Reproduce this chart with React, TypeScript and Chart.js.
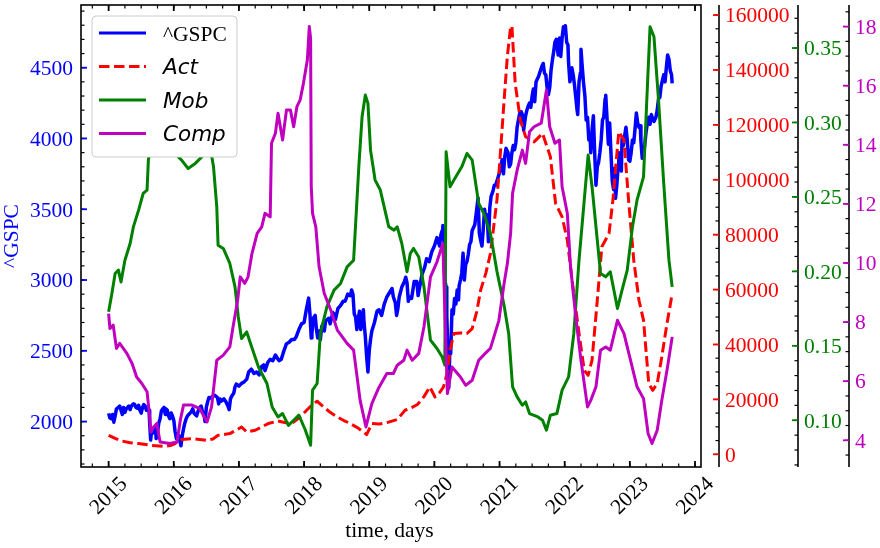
import { useEffect, useRef } from "react";
import { Chart, registerables } from "chart.js";

Chart.register(...registerables);

const SERIF = "'Liberation Serif', 'Times New Roman', serif";
const SANS = "'DejaVu Sans', sans-serif";
const FS = 21.5;

const BLUE = "#0000ff";
const RED = "#ff0000";
const GREEN = "#008000";
const MAGENTA = "#bf00bf";

// ^GSPC close: [year, index]
const gspc: [number, number][] = [
  [2015.0, 2058], [2015.02, 2025], [2015.04, 2020], [2015.06, 2050], [2015.08, 1995], [2015.1, 2040],
  [2015.12, 2090], [2015.15, 2100], [2015.17, 2110], [2015.19, 2080], [2015.21, 2050], [2015.23, 2100],
  [2015.25, 2065], [2015.27, 2090], [2015.29, 2100], [2015.31, 2110], [2015.33, 2085], [2015.35, 2110],
  [2015.38, 2125], [2015.4, 2120], [2015.42, 2100], [2015.44, 2095], [2015.46, 2115], [2015.48, 2080],
  [2015.5, 2060], [2015.52, 2100], [2015.54, 2120], [2015.56, 2110], [2015.58, 2080], [2015.6, 2100],
  [2015.62, 2080], [2015.63, 1990], [2015.645, 1870], [2015.66, 1940], [2015.68, 1920], [2015.7, 1960],
  [2015.72, 1950], [2015.73, 1880], [2015.75, 1920], [2015.77, 1990], [2015.79, 2020], [2015.81, 2075],
  [2015.83, 2090], [2015.85, 2100], [2015.87, 2050], [2015.88, 2090], [2015.9, 2080], [2015.92, 2040],
  [2015.94, 2020], [2015.96, 2060], [2015.98, 2040], [2016.0, 2010], [2016.02, 1930], [2016.04, 1880],
  [2016.06, 1870], [2016.08, 1900], [2016.1, 1850], [2016.11, 1829], [2016.13, 1900], [2016.15, 1950],
  [2016.17, 1990], [2016.19, 2020], [2016.21, 2040], [2016.23, 2050], [2016.25, 2060], [2016.27, 2070],
  [2016.29, 2090], [2016.31, 2060], [2016.33, 2050], [2016.35, 2040], [2016.37, 2070], [2016.4, 2100],
  [2016.42, 2110], [2016.44, 2070], [2016.46, 2060], [2016.48, 2000], [2016.5, 2100], [2016.52, 2140],
  [2016.54, 2170], [2016.56, 2165], [2016.6, 2180], [2016.63, 2185], [2016.67, 2170], [2016.69, 2125],
  [2016.71, 2160], [2016.73, 2145], [2016.77, 2160], [2016.8, 2140], [2016.83, 2110], [2016.85, 2085],
  [2016.87, 2160], [2016.89, 2180], [2016.92, 2200], [2016.94, 2245], [2016.96, 2265], [2017.0, 2250],
  [2017.04, 2270], [2017.08, 2280], [2017.12, 2300], [2017.15, 2350], [2017.19, 2370], [2017.23, 2340],
  [2017.27, 2350], [2017.31, 2330], [2017.35, 2390], [2017.38, 2400], [2017.4, 2360], [2017.44, 2415],
  [2017.48, 2440], [2017.52, 2430], [2017.56, 2470], [2017.6, 2440], [2017.62, 2430], [2017.65, 2440],
  [2017.69, 2500], [2017.73, 2550], [2017.77, 2560], [2017.81, 2580], [2017.85, 2580], [2017.88, 2600],
  [2017.92, 2650], [2017.96, 2690], [2018.0, 2700], [2018.03, 2780], [2018.06, 2850], [2018.07, 2872],
  [2018.09, 2760], [2018.11, 2590], [2018.12, 2620], [2018.14, 2730], [2018.17, 2750], [2018.19, 2650],
  [2018.21, 2590], [2018.23, 2640], [2018.25, 2580], [2018.27, 2670], [2018.29, 2690], [2018.31, 2640],
  [2018.33, 2710], [2018.35, 2720], [2018.38, 2730], [2018.4, 2690], [2018.44, 2770], [2018.46, 2760],
  [2018.48, 2720], [2018.52, 2800], [2018.56, 2820], [2018.6, 2850], [2018.63, 2850], [2018.67, 2900],
  [2018.71, 2890], [2018.73, 2930], [2018.75, 2900], [2018.77, 2760], [2018.79, 2740], [2018.81, 2650],
  [2018.83, 2720], [2018.85, 2780], [2018.87, 2650], [2018.89, 2730], [2018.91, 2790], [2018.92, 2700],
  [2018.94, 2600], [2018.96, 2460], [2018.98, 2351], [2019.0, 2500], [2019.02, 2580], [2019.04, 2640],
  [2019.08, 2700], [2019.12, 2780], [2019.15, 2790], [2019.19, 2750], [2019.23, 2830], [2019.27, 2880],
  [2019.31, 2910], [2019.35, 2940], [2019.37, 2880], [2019.4, 2840], [2019.42, 2750], [2019.44, 2800],
  [2019.46, 2880], [2019.5, 2950], [2019.54, 2990], [2019.56, 3020], [2019.58, 2980], [2019.6, 2850],
  [2019.62, 2880], [2019.65, 2870], [2019.69, 2990], [2019.73, 2990], [2019.75, 2890], [2019.77, 2940],
  [2019.81, 3040], [2019.85, 3090], [2019.88, 3150], [2019.92, 3130], [2019.96, 3200], [2020.0, 3240],
  [2020.04, 3300], [2020.08, 3240], [2020.1, 3320], [2020.12, 3350], [2020.13, 3386], [2020.15, 3250],
  [2020.16, 3000], [2020.18, 2950], [2020.19, 2750], [2020.21, 2450], [2020.22, 2237], [2020.24, 2550],
  [2020.25, 2480], [2020.27, 2790], [2020.29, 2760], [2020.31, 2870], [2020.33, 2830], [2020.35, 2930],
  [2020.37, 2860], [2020.38, 2960], [2020.4, 3000], [2020.42, 3050], [2020.44, 3190], [2020.46, 3000],
  [2020.48, 3110], [2020.5, 3130], [2020.52, 3180], [2020.54, 3250], [2020.56, 3270], [2020.58, 3350],
  [2020.62, 3390], [2020.65, 3500], [2020.67, 3580], [2020.69, 3330], [2020.71, 3280], [2020.73, 3240],
  [2020.75, 3360], [2020.77, 3500], [2020.79, 3430], [2020.81, 3460], [2020.83, 3270], [2020.85, 3510],
  [2020.87, 3590], [2020.9, 3630], [2020.92, 3670], [2020.94, 3670], [2020.96, 3700], [2021.0, 3760],
  [2021.02, 3810], [2021.04, 3850], [2021.06, 3750], [2021.08, 3870], [2021.1, 3930], [2021.13, 3900],
  [2021.15, 3800], [2021.17, 3820], [2021.19, 3900], [2021.21, 3950], [2021.23, 3920], [2021.25, 3970],
  [2021.27, 4080], [2021.29, 4130], [2021.31, 4180], [2021.33, 4190], [2021.35, 4170], [2021.37, 4060],
  [2021.4, 4160], [2021.42, 4200], [2021.44, 4230], [2021.46, 4250], [2021.48, 4220], [2021.5, 4300],
  [2021.52, 4350], [2021.54, 4260], [2021.56, 4400], [2021.58, 4420], [2021.6, 4440], [2021.62, 4470],
  [2021.65, 4510], [2021.67, 4530], [2021.69, 4460], [2021.71, 4450], [2021.73, 4360], [2021.75, 4310],
  [2021.77, 4360], [2021.79, 4480], [2021.81, 4550], [2021.83, 4610], [2021.85, 4680], [2021.87, 4700],
  [2021.9, 4590], [2021.92, 4710], [2021.94, 4580], [2021.96, 4710], [2021.98, 4790], [2022.0, 4770],
  [2022.01, 4797], [2022.03, 4680], [2022.05, 4660], [2022.06, 4530], [2022.08, 4400], [2022.09, 4430],
  [2022.11, 4500], [2022.13, 4450], [2022.15, 4380], [2022.17, 4290], [2022.19, 4200], [2022.2, 4170],
  [2022.22, 4400], [2022.24, 4460], [2022.25, 4630], [2022.27, 4500], [2022.29, 4390], [2022.31, 4300],
  [2022.33, 4130], [2022.35, 4150], [2022.37, 3990], [2022.39, 4020], [2022.4, 3900], [2022.42, 4060],
  [2022.44, 4160], [2022.46, 3900], [2022.48, 3670], [2022.5, 3800], [2022.52, 3830], [2022.54, 3900],
  [2022.56, 3990], [2022.58, 4130], [2022.6, 4150], [2022.62, 4280], [2022.63, 4305], [2022.65, 4140],
  [2022.67, 3960], [2022.69, 4110], [2022.71, 3900], [2022.73, 3700], [2022.75, 3640], [2022.77, 3790],
  [2022.78, 3577], [2022.8, 3670], [2022.82, 3800], [2022.83, 3900], [2022.85, 3860], [2022.87, 3770],
  [2022.88, 4000], [2022.9, 3950], [2022.92, 4020], [2022.94, 4080], [2022.96, 3990], [2022.98, 3850],
  [2023.0, 3840], [2023.02, 3900], [2023.04, 3990], [2023.06, 3970], [2023.08, 4070], [2023.1, 4180],
  [2023.12, 4110], [2023.14, 4080], [2023.16, 4090], [2023.17, 3980], [2023.19, 3860], [2023.21, 3890],
  [2023.23, 3960], [2023.25, 4050], [2023.27, 4110], [2023.29, 4150], [2023.31, 4100], [2023.33, 4170],
  [2023.35, 4140], [2023.37, 4120], [2023.4, 4150], [2023.42, 4200], [2023.44, 4280], [2023.46, 4290],
  [2023.48, 4370], [2023.5, 4410], [2023.52, 4450], [2023.54, 4400], [2023.56, 4500], [2023.58, 4590],
  [2023.6, 4560], [2023.62, 4480], [2023.64, 4450], [2023.65, 4390],
];

// Act (red dashed, right axis 1)
const act: [number, number][] = [
  [2015.0, 6900], [2015.1, 5800], [2015.2, 4850], [2015.33, 4200], [2015.46, 3900], [2015.64, 3300],
  [2015.84, 2900], [2015.95, 3200], [2016.02, 3900], [2016.12, 5350], [2016.3, 5700], [2016.51, 5100],
  [2016.6, 5600], [2016.68, 6900], [2016.86, 7550], [2016.96, 8800], [2017.04, 9950], [2017.12, 8130],
  [2017.25, 8750], [2017.45, 11190], [2017.6, 12140], [2017.7, 11600], [2017.81, 11190], [2017.9, 12800],
  [2017.99, 14830], [2018.1, 17500], [2018.2, 19320], [2018.3, 17240], [2018.4, 15300], [2018.51, 13600],
  [2018.61, 12300], [2018.71, 11190], [2018.84, 9370], [2018.96, 7180], [2019.04, 11190], [2019.15, 11000],
  [2019.27, 11550], [2019.43, 12650], [2019.55, 16040], [2019.65, 17000], [2019.74, 18120], [2019.84, 21000],
  [2019.93, 24530], [2020.01, 20890], [2020.08, 22500], [2020.14, 24530], [2020.2, 30000], [2020.24, 37900],
  [2020.3, 44000], [2020.4, 44200], [2020.5, 44000], [2020.58, 45800], [2020.65, 52000], [2020.71, 59800],
  [2020.79, 66000], [2020.86, 73150], [2020.96, 92600], [2021.02, 112000], [2021.07, 129000], [2021.12, 145000],
  [2021.17, 155750], [2021.19, 156000], [2021.24, 135100], [2021.32, 121700], [2021.4, 115650], [2021.53, 113800],
  [2021.66, 116900], [2021.7, 114000], [2021.78, 108400], [2021.86, 91400], [2021.96, 86500], [2022.04, 78000],
  [2022.12, 62200], [2022.22, 44000], [2022.3, 30600], [2022.36, 28800], [2022.42, 34300], [2022.5, 56100],
  [2022.57, 75600], [2022.68, 80400], [2022.74, 92600], [2022.83, 117500], [2022.91, 114450], [2022.98, 92600],
  [2023.06, 70700], [2023.14, 56100], [2023.21, 48800], [2023.29, 25770], [2023.35, 23300], [2023.42, 25770],
  [2023.49, 35460], [2023.57, 47640], [2023.65, 58570],
];

// Mob (green, right axis 2)
const mob: [number, number][] = [
  [2015.0, 0.1728], [2015.05, 0.1851], [2015.1, 0.1986], [2015.15, 0.2008], [2015.19, 0.1929], [2015.25, 0.2075],
  [2015.33, 0.2187], [2015.38, 0.2299], [2015.46, 0.2411], [2015.53, 0.2523], [2015.59, 0.2546], [2015.61, 0.2747],
  [2015.64, 0.2837], [2015.75, 0.292], [2015.9, 0.29], [2016.02, 0.285], [2016.07, 0.2769], [2016.12, 0.2747],
  [2016.22, 0.2691], [2016.33, 0.2725], [2016.43, 0.2769], [2016.51, 0.2814], [2016.56, 0.283], [2016.61, 0.2702],
  [2016.66, 0.2433], [2016.68, 0.2176], [2016.76, 0.2154], [2016.86, 0.2053], [2016.94, 0.1896], [2016.99, 0.1694],
  [2017.04, 0.1549], [2017.12, 0.1593], [2017.17, 0.1526], [2017.3, 0.1358], [2017.43, 0.1247], [2017.51, 0.1089],
  [2017.6, 0.1022], [2017.67, 0.1045], [2017.76, 0.0966], [2017.84, 0.1], [2017.92, 0.1034], [2018.02, 0.0933],
  [2018.1, 0.0832], [2018.13, 0.1202], [2018.2, 0.1247], [2018.25, 0.1583], [2018.35, 0.1761], [2018.46, 0.1874],
  [2018.56, 0.1919], [2018.66, 0.203], [2018.76, 0.2075], [2018.84, 0.2702], [2018.89, 0.3038], [2018.94, 0.3184],
  [2018.98, 0.3128], [2019.02, 0.2814], [2019.09, 0.2613], [2019.17, 0.2546], [2019.3, 0.2299], [2019.38, 0.2277],
  [2019.43, 0.2299], [2019.5, 0.2187], [2019.58, 0.1997], [2019.63, 0.212], [2019.68, 0.2154], [2019.76, 0.2097],
  [2019.84, 0.1896], [2019.94, 0.1538], [2020.04, 0.1482], [2020.12, 0.1425], [2020.16, 0.137], [2020.18, 0.2803],
  [2020.24, 0.2568], [2020.3, 0.2613], [2020.42, 0.2702], [2020.5, 0.2792], [2020.58, 0.2747], [2020.68, 0.2456],
  [2020.76, 0.2389], [2020.86, 0.2255], [2020.96, 0.2], [2021.07, 0.177], [2021.14, 0.1583], [2021.2, 0.1224],
  [2021.27, 0.1157], [2021.35, 0.1101], [2021.4, 0.1123], [2021.46, 0.1045], [2021.59, 0.1022], [2021.66, 0.1],
  [2021.72, 0.0933], [2021.78, 0.1034], [2021.88, 0.1045], [2021.96, 0.1202], [2022.06, 0.1291], [2022.14, 0.1583],
  [2022.22, 0.2075], [2022.3, 0.2478], [2022.36, 0.2781], [2022.42, 0.2568], [2022.49, 0.2255], [2022.55, 0.1986],
  [2022.63, 0.1963], [2022.7, 0.1997], [2022.81, 0.1751], [2022.88, 0.1874], [2022.96, 0.2008], [2023.04, 0.2299],
  [2023.11, 0.2478], [2023.21, 0.2635], [2023.26, 0.315], [2023.31, 0.3643], [2023.37, 0.3576], [2023.44, 0.315],
  [2023.52, 0.2591], [2023.6, 0.2075], [2023.65, 0.1896],
];

// Comp (magenta, right axis 3)
const comp: [number, number][] = [
  [2015.0, 8.29], [2015.02, 7.78], [2015.07, 7.9], [2015.12, 7.11], [2015.17, 7.28], [2015.28, 6.94],
  [2015.36, 6.6], [2015.43, 6.14], [2015.51, 5.92], [2015.59, 5.64], [2015.62, 5.02], [2015.65, 4.28],
  [2015.69, 4.45], [2015.74, 4.57], [2015.79, 3.94], [2015.94, 3.89], [2016.05, 3.94], [2016.1, 4.68],
  [2016.15, 5.19], [2016.28, 5.19], [2016.4, 5.07], [2016.51, 4.62], [2016.58, 5.13], [2016.66, 6.71],
  [2016.76, 6.88], [2016.86, 7.16], [2016.91, 7.84], [2016.98, 8.74], [2017.02, 9.53], [2017.09, 9.31],
  [2017.14, 9.53], [2017.2, 10.32], [2017.28, 11.0], [2017.35, 11.22], [2017.4, 11.68], [2017.48, 11.56],
  [2017.5, 14.05], [2017.56, 14.39], [2017.6, 15.07], [2017.67, 14.16], [2017.73, 15.18], [2017.79, 15.18],
  [2017.84, 14.61], [2017.89, 15.29], [2017.94, 15.52], [2017.99, 16.08], [2018.05, 16.87], [2018.08, 18.0],
  [2018.1, 17.6], [2018.11, 12.58], [2018.13, 11.68], [2018.18, 11.22], [2018.23, 9.87], [2018.31, 8.97],
  [2018.41, 8.4], [2018.51, 7.73], [2018.66, 7.28], [2018.76, 7.05], [2018.86, 5.35], [2018.95, 4.45],
  [2019.04, 5.24], [2019.14, 5.75], [2019.27, 6.26], [2019.37, 6.26], [2019.43, 6.54], [2019.53, 6.71],
  [2019.58, 7.05], [2019.66, 6.71], [2019.76, 6.94], [2019.84, 7.84], [2019.94, 9.53], [2020.04, 10.04],
  [2020.13, 10.66], [2020.17, 7.61], [2020.2, 5.58], [2020.27, 6.48], [2020.4, 6.14], [2020.48, 5.86],
  [2020.58, 6.03], [2020.68, 6.71], [2020.78, 6.94], [2020.86, 7.11], [2020.99, 8.06], [2021.07, 9.31],
  [2021.12, 9.98], [2021.17, 11.0], [2021.2, 12.36], [2021.27, 13.14], [2021.35, 13.82], [2021.4, 13.37],
  [2021.46, 14.44], [2021.53, 14.61], [2021.64, 14.73], [2021.72, 15.85], [2021.77, 14.61], [2021.85, 14.05],
  [2021.92, 14.16], [2021.96, 12.58], [2022.04, 11.68], [2022.09, 9.87], [2022.17, 8.18], [2022.25, 6.71],
  [2022.35, 5.13], [2022.4, 5.35], [2022.48, 5.81], [2022.55, 7.05], [2022.63, 7.16], [2022.7, 7.05],
  [2022.81, 8.06], [2022.91, 7.61], [2023.01, 6.71], [2023.11, 5.81], [2023.21, 5.41], [2023.28, 4.23],
  [2023.34, 3.89], [2023.42, 4.34], [2023.49, 5.35], [2023.57, 6.37], [2023.65, 7.5],
];

// tick labels
const yearTicks = [2015, 2016, 2017, 2018, 2019, 2020, 2021, 2022, 2023, 2024];
const gspcTicks = [2000, 2500, 3000, 3500, 4000, 4500];
const actTicks = [0, 20000, 40000, 60000, 80000, 100000, 120000, 140000, 160000];
const mobTicks = [0.1, 0.15, 0.2, 0.25, 0.3, 0.35];
const compTicks = [4, 6, 8, 10, 12, 14, 16, 18];

const DASH = [10.5, 4.5];

const legendItems = [
  { label: "^GSPC", color: BLUE, dash: [] as number[], font: `${FS}px ${SERIF}` },
  { label: "Act", color: RED, dash: DASH, font: `italic ${FS}px ${SANS}` },
  { label: "Mob", color: GREEN, dash: [] as number[], font: `italic ${FS}px ${SANS}` },
  { label: "Comp", color: MAGENTA, dash: [] as number[], font: `italic ${FS}px ${SANS}` },
];

function minorsFor(min: number, max: number, step: number): number[] {
  const out: number[] = [];
  for (let k = Math.ceil(min / step - 1e-9); k * step <= max + 1e-9; k++) out.push(k * step);
  return out;
}

function seg(ctx: CanvasRenderingContext2D, x1: number, y1: number, x2: number, y2: number, color: string, w: number) {
  ctx.strokeStyle = color;
  ctx.lineWidth = w;
  ctx.beginPath();
  ctx.moveTo(x1, y1);
  ctx.lineTo(x2, y2);
  ctx.stroke();
}

const MAJ = 6;
const MIN = 3.5;

// matplotlib-like frame, inward ticks, offset twin spines and legend
const axesPlugin = {
  id: "mplAxes",
  afterDraw(chart: any) {
    const { ctx, chartArea: a, scales } = chart;
    ctx.save();
    ctx.setLineDash([]);

    // x axis (bottom + top ticks)
    const xs = scales.x;
    for (const v of minorsFor(xs.min, xs.max, 0.25)) {
      const px = xs.getPixelForValue(v);
      seg(ctx, px, a.bottom, px, a.bottom - MIN, "#000", 1.2);
      seg(ctx, px, a.top, px, a.top + MIN, "#000", 1.2);
    }
    ctx.fillStyle = "#000";
    ctx.font = `${FS}px ${SERIF}`;
    ctx.textAlign = "center";
    ctx.textBaseline = "alphabetic";
    for (const v of yearTicks) {
      const px = xs.getPixelForValue(v);
      seg(ctx, px, a.bottom, px, a.bottom - MAJ, "#000", 1.8);
      seg(ctx, px, a.top, px, a.top + MAJ, "#000", 1.8);
      ctx.save();
      ctx.translate(px - 0.8, a.bottom + 28);
      ctx.rotate(-Math.PI / 4);
      ctx.fillText(String(v), 0, FS * 0.34);
      ctx.restore();
    }
    ctx.fillText("time, days", 389.5, 537);

    // left axis (^GSPC)
    const yg = scales.yG;
    for (const v of minorsFor(yg.min, yg.max, 100)) {
      const py = yg.getPixelForValue(v);
      seg(ctx, a.left, py, a.left + MIN, py, "#000", 1.2);
    }
    ctx.fillStyle = BLUE;
    ctx.textAlign = "right";
    for (const v of gspcTicks) {
      const py = yg.getPixelForValue(v);
      seg(ctx, a.left, py, a.left + MAJ, py, BLUE, 1.8);
      ctx.fillText(String(v), a.left - 8, py + FS * 0.34);
    }
    ctx.save();
    ctx.translate(18, 236);
    ctx.rotate(-Math.PI / 2);
    ctx.textAlign = "center";
    ctx.fillText("^GSPC", 0, 0);
    ctx.restore();

    // frame
    ctx.strokeStyle = "#000";
    ctx.lineWidth = 1.6;
    ctx.strokeRect(a.left, a.top, a.right - a.left, a.bottom - a.top);

    // offset right spines
    const spine = (x: number, sc: any, majors: number[], step: number, color: string, fmt: (v: number) => string) => {
      seg(ctx, x, a.top, x, a.bottom, "#000", 1.6);
      for (const v of minorsFor(sc.min, sc.max, step)) {
        const py = sc.getPixelForValue(v);
        seg(ctx, x, py, x - MIN, py, "#000", 1.2);
      }
      ctx.fillStyle = color;
      ctx.textAlign = "left";
      for (const v of majors) {
        const py = sc.getPixelForValue(v);
        seg(ctx, x, py, x - MAJ, py, color, 1.8);
        ctx.fillText(fmt(v), x + 6, py + FS * 0.34);
      }
    };
    spine(a.right + 18, scales.yA, actTicks, 5000, RED, (v) => String(v));
    spine(a.right + 97, scales.yM, mobTicks, 0.01, GREEN, (v) => v.toFixed(2));
    spine(a.right + 148, scales.yC, compTicks, 0.5, MAGENTA, (v) => String(v));

    // legend
    const lx = a.left + 11;
    const ly = a.top + 11;
    const lw = 145;
    const lh = 141;
    ctx.beginPath();
    ctx.roundRect(lx, ly, lw, lh, 4);
    ctx.fillStyle = "#ffffff";
    ctx.fill();
    ctx.strokeStyle = "#cccccc";
    ctx.lineWidth = 1;
    ctx.stroke();
    legendItems.forEach((it, i) => {
      const ry = ly + 17 + i * 33.5;
      ctx.setLineDash(it.dash);
      seg(ctx, lx + 7, ry, lx + 54, ry, it.color, 3);
      ctx.setLineDash([]);
      ctx.fillStyle = "#000";
      ctx.font = it.font;
      ctx.textAlign = "left";
      ctx.fillText(it.label, lx + 71, ry + 7.5);
    });

    ctx.restore();
  },
};

const toPts = (arr: [number, number][]) => arr.map(([x, y]) => ({ x, y }));

export default function App() {
  const canvasRef = useRef<HTMLCanvasElement | null>(null);

  useEffect(() => {
    if (!canvasRef.current) return;
    const common = { pointRadius: 0, borderWidth: 3, tension: 0, borderJoinStyle: "round" as const, fill: false };
    const chart = new Chart(canvasRef.current, {
      type: "line",
      data: {
        datasets: [
          { ...common, label: "^GSPC", data: toPts(gspc), yAxisID: "yG", borderColor: BLUE, borderWidth: 3.5, order: 4 },
          { ...common, label: "Act", data: toPts(act), yAxisID: "yA", borderColor: RED, borderDash: DASH, order: 3 },
          { ...common, label: "Mob", data: toPts(mob), yAxisID: "yM", borderColor: GREEN, order: 2 },
          { ...common, label: "Comp", data: toPts(comp), yAxisID: "yC", borderColor: MAGENTA, order: 1 },
        ],
      },
      options: {
        animation: false,
        responsive: false,
        events: [],
        layout: { padding: { left: 81, right: 179, top: 5, bottom: 81 } },
        plugins: { legend: { display: false }, tooltip: { enabled: false } },
        scales: {
          x: { type: "linear", min: 2014.576, max: 2024.092, display: false },
          yG: { type: "linear", position: "left", min: 1679, max: 4943, display: false },
          yA: { type: "linear", position: "right", min: -4630, max: 163660, display: false },
          yM: { type: "linear", position: "right", min: 0.0686, max: 0.3789, display: false },
          yC: { type: "linear", position: "right", min: 3.096, max: 18.73, display: false },
        },
      },
      plugins: [axesPlugin],
    });
    return () => chart.destroy();
  }, []);

  return (
    <div style={{ position: "absolute", left: 0, top: 0, width: 880, height: 548, background: "#fff" }}>
      <canvas ref={canvasRef} width={880} height={548} style={{ display: "block" }} />
    </div>
  );
}
